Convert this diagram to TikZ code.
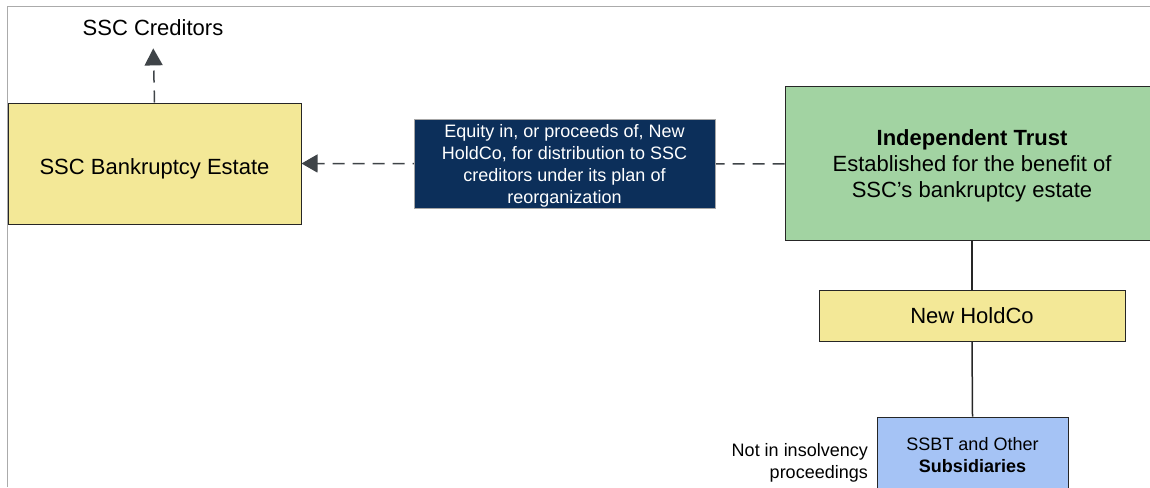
\documentclass[tikz,border=0pt]{standalone}
\usepackage{fontspec}
\setmainfont{Liberation Sans}
\usetikzlibrary{arrows.meta}
\definecolor{boxyellow}{HTML}{F3E897}
\definecolor{trustgreen}{HTML}{A2D3A2}
\definecolor{subblue}{HTML}{A5C3F5}
\definecolor{navy}{HTML}{0C2F5A}
\definecolor{boxline}{HTML}{262626}
\definecolor{dashgray}{HTML}{3F4448}
\definecolor{framegray}{HTML}{ABABAB}
\newcommand{\lowered}[2]{\raisebox{-#1}[\height][\depth]{\begin{tabular}{@{}c@{}}#2\end{tabular}}}
\begin{document}
\begin{tikzpicture}[x=1pt,y=-1pt,
  box/.style={draw=boxline, line width=1pt, inner sep=0pt, align=center},
  bigtext/.style={font=\fontsize{22}{26}\selectfont},
  smalltext/.style={font=\fontsize{18}{22}\selectfont},
  dashline/.style={draw=dashgray, line width=1.5pt, dash pattern=on 12pt off 8pt},
  solidline/.style={draw=boxline, line width=1.5pt},
  tiptri/.style={-{Triangle[length=17pt,width=18pt]}}
]
\useasboundingbox (0,0) rectangle (1150,487);
\clip (0,0) rectangle (1150,487);

% frame
\draw[framegray, line width=1.2pt] (7.5,487) -- (7.5,6.8) -- (1150,6.8);

% nodes
\node[box,bigtext,fill=boxyellow,minimum width=293pt,minimum height=121pt] (estate) at (154.5,163.5) {\raisebox{-5pt}[\height][\depth]{SSC Bankruptcy Estate}};
\node[bigtext,inner sep=0pt,anchor=base] (creditors) at (153,36) {SSC Creditors};
\node[box,bigtext,fill=trustgreen,minimum width=374pt,minimum height=154pt] (trust) at (972,163.8) {\lowered{2pt}{\textbf{Independent Trust}\\Established for the benefit of\\SSC’s bankruptcy estate}};
\node[box,bigtext,fill=boxyellow,minimum width=306pt,minimum height=51pt] (holdco) at (972,315.5) {New HoldCo};
\node[box,smalltext,fill=subblue,minimum width=191pt,minimum height=77pt] (ssbt) at (972.5,455.5) {SSBT and Other\\\textbf{Subsidiaries}};
\node[smalltext,inner sep=0pt,align=right,anchor=east] (note) at (868,462.5) {Not in insolvency\\proceedings};

% connectors
\draw[dashline,tiptri,shorten >=12pt] (estate.north) -- (creditors.south);
\draw[dashline,-{Triangle[length=16pt,width=18pt]}] (trust.west) -- (estate.east);
\draw[solidline] (trust.south) -- (holdco.north);
\draw[solidline] (holdco.south) -- (ssbt.north);

% label on the dashed connector
\node[fill=navy,draw=gray!70,line width=0.6pt,text=white,smalltext,inner sep=0pt,minimum width=301pt,minimum height=89pt] (equity) at (564.5,163.5) {\lowered{2.5pt}{Equity in, or proceeds of, New\\HoldCo, for distribution to SSC\\creditors under its plan of\\reorganization}};
\end{tikzpicture}
\end{document}
